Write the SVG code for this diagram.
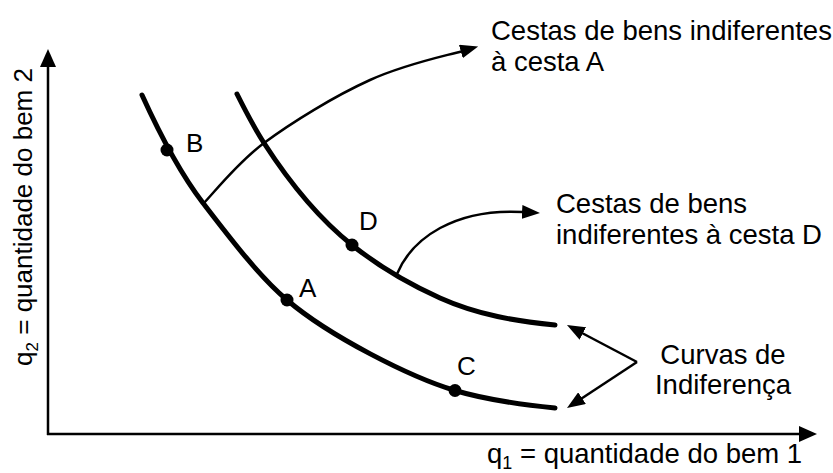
<svg xmlns="http://www.w3.org/2000/svg" width="833" height="473" viewBox="0 0 833 473">
  <style>
    .curve { fill: none; stroke: #000; stroke-width: 5; stroke-linecap: round; }
    .axis { fill: none; stroke: #000; stroke-width: 2.5; }
    .call { fill: none; stroke: #000; stroke-width: 2.5; }
    .dot { fill: #000; }
    text { font-family: "Liberation Sans", Arial, sans-serif; fill: #000; }
    .big { font-size: 27.5px; }
    .lbl { font-size: 26px; }
  </style>
  <defs>
    <marker id="ah" markerUnits="userSpaceOnUse" viewBox="0 0 18 14" markerWidth="18" markerHeight="14" refX="1" refY="7" orient="auto">
      <path d="M0,0 L18,7 L0,14 z" fill="#000"/>
    </marker>
    <marker id="axh" markerUnits="userSpaceOnUse" viewBox="0 0 18 16" markerWidth="18" markerHeight="16" refX="1" refY="8" orient="auto">
      <path d="M0,0 L18,8 L0,16 z" fill="#000"/>
    </marker>
  </defs>

  <g id="axes">
    <path class="axis" d="M48,435 L48,66" marker-end="url(#axh)"/>
    <path class="axis" d="M47,434 L800,434" marker-end="url(#axh)"/>
    <text class="lbl" transform="translate(32,217) rotate(-90)" text-anchor="middle">q<tspan font-size="17" dy="6">2</tspan><tspan dy="-6"> = quantidade do bem 2</tspan></text>
    <text class="big" x="487" y="463">q<tspan font-size="18" dy="6">1</tspan><tspan dy="-6"> = quantidade do bem 1</tspan></text>
  </g>

  <g id="curve-A">
    <path class="curve" d="M142,95 C162.3,139.7 182.7,176.6 203,203 C231,239.4 259,276.2 287,300 C330,336.5 410,377 455,390.5 C488,400.4 522,404.7 555,408"/>
  </g>
  <g id="curve-D">
    <path class="curve" d="M237,94 C246,112 255,129 264,143 C293.3,188.4 322.7,221.6 352,245 C381.3,268.4 410.7,284.8 440,298 C478.3,315.2 516.7,321.2 555,325"/>
  </g>

  <g id="point-B">
    <circle class="dot" cx="167" cy="150" r="6.5"/>
    <text class="lbl" x="186" y="152">B</text>
  </g>
  <g id="point-A">
    <circle class="dot" cx="287" cy="300" r="6.5"/>
    <text class="lbl" x="299" y="297">A</text>
  </g>
  <g id="point-C">
    <circle class="dot" cx="455" cy="390.5" r="6.5"/>
    <text class="lbl" x="457" y="375">C</text>
  </g>
  <g id="point-D">
    <circle class="dot" cx="352" cy="245" r="6.5"/>
    <text class="lbl" x="359" y="230">D</text>
  </g>

  <g id="connectors">
    <path class="call" d="M203,204 C213.2,193.8 236.2,163.7 264,143 C291.8,122.3 334.3,96.2 370,80 C405.7,63.8 445,56 461.8,51.2" marker-end="url(#ah)"/>
    <path class="call" d="M397,274 C412,238 455,208 523,212" marker-end="url(#ah)"/>
    <path class="call" d="M637,362 L582,333" marker-end="url(#ah)"/>
    <path class="call" d="M637,362 L581.2,398.7" marker-end="url(#ah)"/>
  </g>

  <g id="label-A-set">
    <text class="big" x="491" y="40">Cestas de bens indiferentes</text>
    <text class="big" x="491" y="71">à cesta A</text>
  </g>
  <g id="label-D-set">
    <text class="big" x="556" y="213">Cestas de bens</text>
    <text class="big" x="556" y="244">indiferentes à cesta D</text>
  </g>
  <g id="label-curves">
    <text class="big" x="723" y="364" text-anchor="middle">Curvas de</text>
    <text class="big" x="723" y="394" text-anchor="middle">Indiferença</text>
  </g>
</svg>
